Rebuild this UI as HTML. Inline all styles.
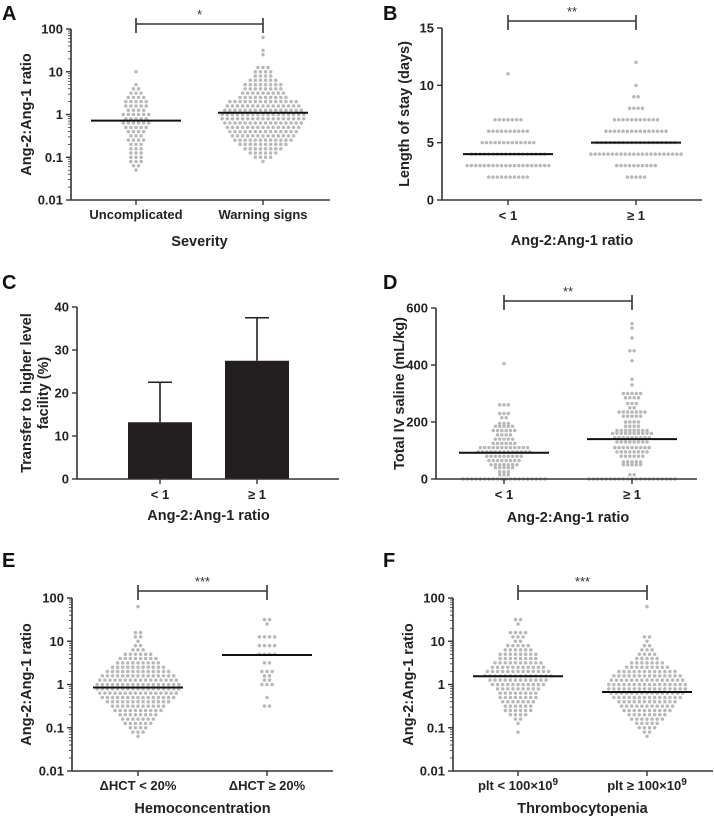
<!DOCTYPE html>
<html><head><meta charset="utf-8"><style>
body{margin:0;background:#fff}
svg{display:block;font-family:"Liberation Sans",Arial,sans-serif}
</style></head><body>
<svg id="fig" width="714" height="819" viewBox="0 0 714 819"></svg>
<script>
// ---- Data (row bins: value/log10 value and dot counts) ----
const aUncLog=[1.0,0.7,0.6,0.5,0.4,0.3,0.2,0.1,0.0,-0.1,-0.2,-0.3,-0.4,-0.5,-0.6,-0.7,-0.8,-0.9,-1.0,-1.1,-1.2,-1.3];
const aUncCnt=[1,1,2,3,4,5,5,4,6,5,6,5,4,3,4,3,3,3,3,3,2,1];
const aWarnLog=[1.8,1.5,1.4,1.1,1.0,0.9,0.8,0.7,0.6,0.5,0.4,0.3,0.2,0.1,0.0,-0.1,-0.2,-0.3,-0.4,-0.5,-0.6,-0.7,-0.8,-0.9,-1.0,-1.1];
const aWarnCnt=[1,1,1,3,4,4,6,8,8,9,10,14,15,16,17,17,16,15,14,13,12,10,8,6,4,1];
const aMedians=[0.72,1.1];

const bLowVal=[2,3,4,5,6,7,11];
const bLowCnt=[10,20,18,13,10,7,1];
const bHighVal=[2,3,4,5,6,7,8,9,10,12];
const bHighCnt=[5,10,22,19,15,11,4,2,1,1];
const bMedians=[4,5];

const cCategories=["< 1","≥ 1"];
const cValues=[13.2,27.5];
const cErrors=[9.3,10.0];

const dLowVal=[0,15,25,40,50,65,80,95,110,125,140,155,170,185,195,215,230,260,405];
const dLowCnt=[20,3,3,5,7,8,9,13,12,6,5,4,6,5,3,2,3,3,1];
const dHighVal=[0,15,50,60,80,95,110,130,145,160,170,185,200,220,235,250,265,285,300,330,350,415,450,495,530,545];
const dHighCnt=[21,2,5,5,6,8,9,8,9,10,8,4,4,5,7,2,3,4,5,1,1,1,2,1,1,1];
const dMedians=[92,140];

const eLowLog=[1.8,1.2,1.1,1.0,0.9,0.8,0.7,0.6,0.5,0.4,0.3,0.2,0.1,0.0,-0.1,-0.2,-0.3,-0.4,-0.5,-0.6,-0.7,-0.8,-0.9,-1.0,-1.1,-1.2];
const eLowCnt=[1,2,2,1,2,3,6,8,9,11,13,15,16,17,17,16,15,13,11,10,8,7,6,4,3,1];
const eHighLog=[1.5,1.4,1.1,0.9,0.7,0.5,0.3,0.2,0.1,0.0,-0.3,-0.5];
const eHighCnt=[2,1,4,4,4,2,3,2,2,3,1,2];
const eMedians=[0.85,4.8];

const fLowLog=[1.5,1.4,1.2,1.1,1.0,0.9,0.8,0.7,0.6,0.5,0.4,0.3,0.2,0.1,0.0,-0.1,-0.2,-0.3,-0.4,-0.5,-0.6,-0.7,-0.8,-0.9,-1.1];
const fLowCnt=[2,1,4,3,2,5,6,8,8,10,11,13,14,12,11,9,8,8,7,6,6,4,2,1,1];
const fHighLog=[1.8,1.1,1.0,0.9,0.8,0.7,0.6,0.5,0.4,0.3,0.2,0.1,0.0,-0.1,-0.2,-0.3,-0.4,-0.5,-0.6,-0.7,-0.8,-0.9,-1.0,-1.1,-1.2];
const fHighCnt=[1,2,1,2,3,4,5,7,9,12,14,15,16,16,15,14,12,11,10,8,7,5,4,2,1];
const fMedians=[1.55,0.67];

const logTicks=[100,10,1,0.1,0.01];
const logTickLabels=["100","10","1","0.1","0.01"];

const NS="http://www.w3.org/2000/svg";
const svg=document.getElementById('fig');
function mk(tag,attrs,parent){const e=document.createElementNS(NS,tag);for(const k in attrs)e.setAttribute(k,attrs[k]);(parent||svg).appendChild(e);return e;}
function txt(s,attrs,parent){const t=mk('text',attrs,parent);t.textContent=s;return t;}

function makeScale(c){
  if(c.log){const lo=Math.log10(c.min),hi=Math.log10(c.max);
    return v=>c.yBot-(Math.log10(v)-lo)/(hi-lo)*(c.yBot-c.yTop);}
  return v=>c.yBot-(v-c.min)/(c.max-c.min)*(c.yBot-c.yTop);
}

function axes(c,g,y){
  const ax=mk('g',{},g);
  
  
  mk('line',{x1:c.ax,y1:c.yTop,x2:c.ax,y2:c.yBot,stroke:'#333','stroke-width':1.6},ax);
  const xa=mk('line',{x1:c.ax,y1:c.yBot,x2:c.xEnd,y2:c.yBot,stroke:'#333','stroke-width':1.6},g);
  
  
  c.ticks.forEach((v,i)=>{const yy=y(v);
    mk('line',{x1:c.ax-5,y1:yy,x2:c.ax,y2:yy,stroke:'#333','stroke-width':1.4},ax);
    const t=txt(c.tickLabels[i],{x:c.ax-8,y:yy+4.5,'text-anchor':'end','font-size':13,'font-weight':'bold',fill:'#222'},ax);
    
    
  });
  if(c.log){for(let d=-2;d<2;d++)for(let m=2;m<10;m++){const yy=y(m*Math.pow(10,d));
    mk('line',{x1:c.ax-3,y1:yy,x2:c.ax,y2:yy,stroke:'#333','stroke-width':0.8},ax);}}
  c.cats.forEach((cx,i)=>{
    mk('line',{x1:cx,y1:c.yBot,x2:cx,y2:c.yBot+5,stroke:'#333','stroke-width':1.4},g);
    const t=txt('',{x:cx,y:c.xLabY,'text-anchor':'middle','font-size':13,'font-weight':'bold',fill:'#222'},g);
    
    
    const lab=c.catLabels[i];
    if(typeof lab==='object'){t.appendChild(document.createTextNode(lab.t));const s=mk('tspan',{dy:-5,'font-size':10},t);s.textContent=lab.sup;}
    else t.textContent=lab;
  });
  const xt=txt(c.xTitle,{x:(c.cats[0]+c.cats[1])/2,y:c.xTitleY,'text-anchor':'middle','font-size':14.5,'font-weight':'bold',fill:'#222'},g);
  
  
  c.yTitle.forEach((s,i)=>{
    const yx=c.yTitleX+i*17;
    const t=txt(s,{x:yx,y:(c.yTop+c.yBot)/2,'text-anchor':'middle','font-size':14.5,'font-weight':'bold',fill:'#222',transform:`rotate(-90 ${yx} ${(c.yTop+c.yBot)/2})`},g);
    
    
  });
  const L=txt(c.letter,{x:c.lx,y:c.ly,'font-size':20,'font-weight':'bold',fill:'#111'},g);
  
  
  if(c.sig){const sg=mk('g',{},g);
    
    
    const sy=c.sig.y;
    mk('line',{x1:c.cats[0],y1:sy,x2:c.cats[1],y2:sy,stroke:'#333','stroke-width':1.6},sg);
    mk('line',{x1:c.cats[0],y1:sy-6,x2:c.cats[0],y2:sy+9,stroke:'#333','stroke-width':1.6},sg);
    mk('line',{x1:c.cats[1],y1:sy-6,x2:c.cats[1],y2:sy+9,stroke:'#333','stroke-width':1.6},sg);
    txt(c.sig.text,{x:(c.cats[0]+c.cats[1])/2,y:sy-5,'text-anchor':'middle','font-size':13,fill:'#333'},sg);}
}

function swarm(g,y,cx,vals,cnts,isLog,name){
  const sg=mk('g',{},g);
  
  
  const sp=isLog?5.1:4.3;
  vals.forEach((v,i)=>{const n=cnts[i];const val=isLog?Math.pow(10,v):v;const yy=y(val);
    for(let k=0;k<n;k++){const c=mk('circle',{cx:cx+(k-(n-1)/2)*sp,cy:yy,r:1.75,fill:'#b8b8b8'},sg);
      
      }
  });
}
function median(g,y,cx,v){const l=mk('line',{x1:cx-45,y1:y(v),x2:cx+45,y2:y(v),stroke:'#111','stroke-width':2},g);
  
  }

function panel(c,groups,meds,name){
  const g=mk('g',{});
  
  
  const y=makeScale(c);
  groups.forEach((gr,i)=>swarm(g,y,c.cats[i],gr[0],gr[1],c.log,'group-'+(i+1)+'-points'));
  meds.forEach((m,i)=>median(g,y,c.cats[i],m));
  axes(c,g,y);
}

panel({log:true,min:0.01,max:100,ax:71,xEnd:330,yTop:29,yBot:200,ticks:logTicks,tickLabels:logTickLabels,
  cats:[136,263],catLabels:["Uncomplicated","Warning signs"],xLabY:219,xTitle:"Severity",xTitleY:246,
  yTitle:["Ang-2:Ang-1 ratio"],yTitleX:31,letter:"A",lx:2,ly:20,sig:{y:24,text:"*"}},
  [[aUncLog,aUncCnt],[aWarnLog,aWarnCnt]],aMedians,'panel-a');

panel({log:false,min:0,max:15,ax:442,xEnd:702,yTop:28,yBot:200,ticks:[0,5,10,15],tickLabels:["0","5","10","15"],
  cats:[508,636],catLabels:["< 1","≥ 1"],xLabY:220,xTitle:"Ang-2:Ang-1 ratio",xTitleY:245,
  yTitle:["Length of stay (days)"],yTitleX:409,letter:"B",lx:383,ly:20,sig:{y:21,text:"**"}},
  [[bLowVal,bLowCnt],[bHighVal,bHighCnt]],bMedians,'panel-b');

// Panel C bar chart
(function(){
  const c={log:false,min:0,max:40,ax:77,xEnd:339,yTop:307,yBot:479,ticks:[0,10,20,30,40],tickLabels:["0","10","20","30","40"],
    cats:[160,257],catLabels:cCategories,xLabY:499,xTitle:"Ang-2:Ang-1 ratio",xTitleY:520,
    yTitle:["Transfer to higher level","facility (%)"],yTitleX:31,letter:"C",lx:2,ly:289};
  const g=mk('g',{});
  
  
  const y=makeScale(c);
  cValues.forEach((v,i)=>{const cx=c.cats[i];
    const e=mk('line',{x1:cx,y1:y(v),x2:cx,y2:y(v+cErrors[i]),stroke:'#222','stroke-width':1.6},g);
    
    
    const cap=mk('line',{x1:cx-12,y1:y(v+cErrors[i]),x2:cx+12,y2:y(v+cErrors[i]),stroke:'#222','stroke-width':1.6},g);
    
    
    const r=mk('rect',{x:cx-32,y:y(v),width:64,height:c.yBot-y(v),fill:'#231f20'},g);
    
    
  });
  axes(c,g,y);
})();

panel({log:false,min:0,max:600,ax:436,xEnd:697,yTop:308,yBot:479,ticks:[0,200,400,600],tickLabels:["0","200","400","600"],
  cats:[504,632],catLabels:["< 1","≥ 1"],xLabY:499,xTitle:"Ang-2:Ang-1 ratio",xTitleY:522,
  yTitle:["Total IV saline (mL/kg)"],yTitleX:404,letter:"D",lx:383,ly:289,sig:{y:301,text:"**"}},
  [[dLowVal,dLowCnt],[dHighVal,dHighCnt]],dMedians,'panel-d');

panel({log:true,min:0.01,max:100,ax:72,xEnd:333,yTop:598,yBot:771,ticks:logTicks,tickLabels:logTickLabels,
  cats:[138,267],catLabels:["ΔHCT < 20%","ΔHCT ≥ 20%"],xLabY:790,xTitle:"Hemoconcentration",xTitleY:813,
  yTitle:["Ang-2:Ang-1 ratio"],yTitleX:31,letter:"E",lx:2,ly:567,sig:{y:591,text:"***"}},
  [[eLowLog,eLowCnt],[eHighLog,eHighCnt]],eMedians,'panel-e');

panel({log:true,min:0.01,max:100,ax:453,xEnd:713,yTop:598,yBot:771,ticks:logTicks,tickLabels:logTickLabels,
  cats:[518,647],catLabels:[{t:"plt < 100×10",sup:"9"},{t:"plt ≥ 100×10",sup:"9"}],xLabY:790,xTitle:"Thrombocytopenia",xTitleY:813,
  yTitle:["Ang-2:Ang-1 ratio"],yTitleX:413,letter:"F",lx:383,ly:567,sig:{y:591,text:"***"}},
  [[fLowLog,fLowCnt],[fHighLog,fHighCnt]],fMedians,'panel-f');
</script>
</body></html>
